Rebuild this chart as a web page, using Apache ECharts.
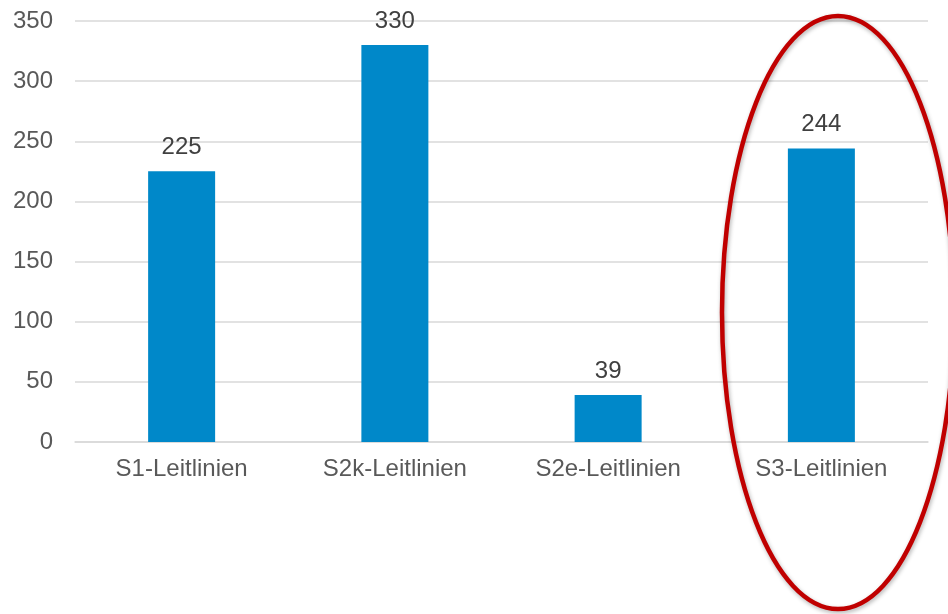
<!DOCTYPE html>
<html>
<head>
<meta charset="utf-8">
<script src="https://cdn.jsdelivr.net/npm/echarts@6/dist/echarts.min.js"></script>
<style>
  html, body { margin: 0; padding: 0; background: #ffffff; }
  #chart { width: 948px; height: 614px; }
</style>
</head>
<body>
<div id="chart"></div>
<script>
// Anzahl der Leitlinien nach Klassifikation
const categories = ['S1-Leitlinien', 'S2k-Leitlinien', 'S2e-Leitlinien', 'S3-Leitlinien'];
const counts = [225, 330, 39, 244];
const yTicks = { min: 0, max: 350, interval: 50 };

const chart = echarts.init(document.getElementById('chart'), null, { renderer: 'canvas' });

const font = 'Liberation Sans, Arial, sans-serif';

chart.setOption({
  animation: false,
  backgroundColor: '#ffffff',
  grid: { left: 75, right: 20, top: 21, bottom: 172 },
  xAxis: {
    type: 'category',
    data: categories,
    axisLine: { show: true, lineStyle: { color: '#d9d9d9', width: 1.5 } },
    axisTick: { show: false },
    axisLabel: {
      color: '#595959',
      fontSize: 24,
      fontFamily: font,
      margin: 15
    }
  },
  yAxis: {
    type: 'value',
    min: yTicks.min,
    max: yTicks.max,
    interval: yTicks.interval,
    axisLine: { show: false },
    axisTick: { show: false },
    splitLine: { lineStyle: { color: '#d9d9d9', width: 1.5 } },
    axisLabel: {
      color: '#595959',
      fontSize: 24,
      fontFamily: font,
      margin: 22
    }
  },
  series: [{
    type: 'bar',
    data: counts,
    barWidth: 67,
    itemStyle: { color: '#0088c9' },
    label: {
      show: true,
      position: 'top',
      distance: 12,
      color: '#404040',
      fontSize: 24,
      fontFamily: font
    }
  }],
  graphic: [{
    // Hervorhebung der S3-Leitlinien
    type: 'ellipse',
    shape: { cx: 838, cy: 312.5, rx: 116, ry: 296.5 },
    style: {
      fill: 'none',
      stroke: '#c00000',
      lineWidth: 4.5,
      shadowBlur: 4,
      shadowOffsetX: 1,
      shadowOffsetY: 2,
      shadowColor: 'rgba(0,0,0,0.3)'
    },
    z: 100
  }]
});
</script>
</body>
</html>
